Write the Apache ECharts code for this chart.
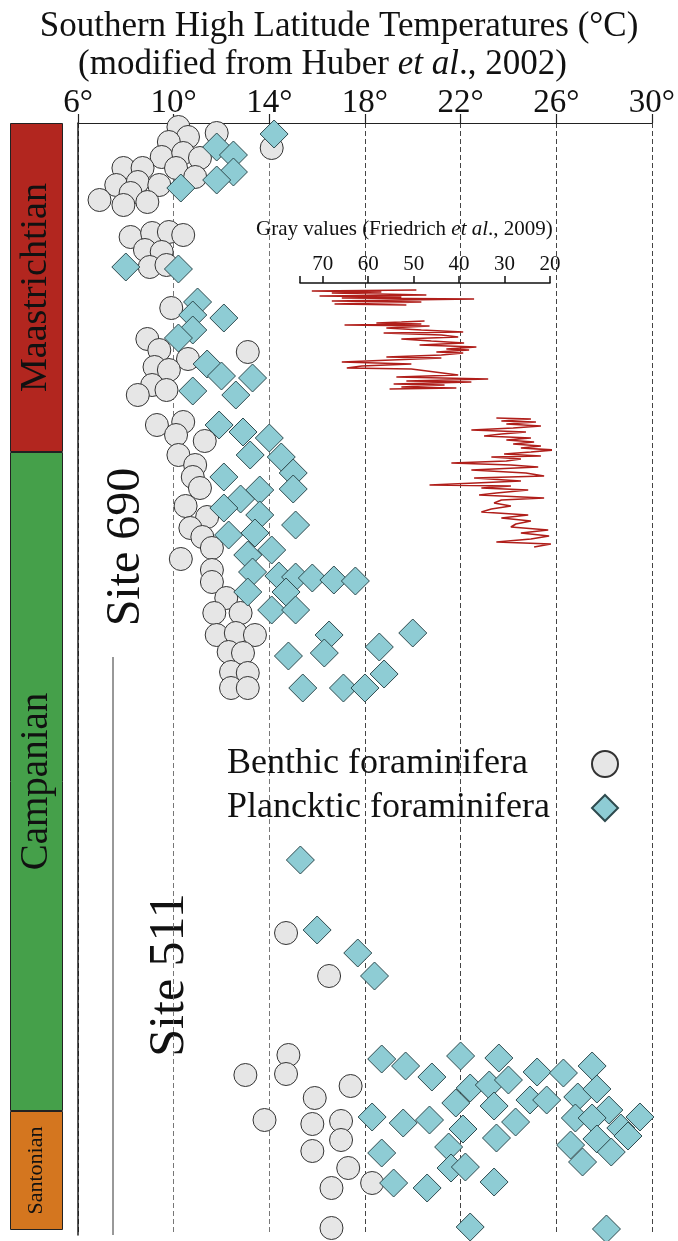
<!DOCTYPE html>
<html lang="en" style="height: 100%">

<head>
    <meta charset="utf-8">
    <script type="text/javascript" src="https://cdn.jsdelivr.net/npm/echarts@6/dist/echarts.min.js"></script>
</head>

<body style="height: 100%; margin: 0; background: #fff">
    <div id="chart" style="height: 1241px; width: 678px"></div>

    <script type="text/javascript">
        // temperature (°C) vs stratigraphic level (0 = top of section, arbitrary units, down = older)
        var benthic690 = [
            [10.2, 4], [10.6, 14], [11.8, 10], [9.8, 19], [9.5, 34], [10.4, 30], [11.1, 35], [10.1, 45], [7.9, 45], [8.7, 45],
            [7.6, 62], [8.5, 59], [8.2, 70], [9.4, 62], [10.9, 54], [6.9, 77], [7.9, 82], [8.9, 79], [14.1, 25],
            [8.2, 114], [9.1, 110], [9.8, 109], [10.4, 112], [8.8, 127], [9.5, 129], [9.0, 144], [9.7, 142],
            [9.9, 185], [8.9, 216], [9.4, 227], [10.6, 236], [13.1, 229], [9.2, 244], [9.8, 247], [9.1, 262], [9.7, 267], [8.5, 272],
            [9.3, 302], [10.4, 299], [10.1, 312], [11.3, 318], [10.2, 332], [10.9, 342], [10.8, 354], [11.1, 365], [10.5, 383], [11.4, 394],
            [10.7, 405], [11.2, 414], [11.6, 425], [10.3, 436], [11.6, 447], [11.6, 459], [12.2, 475], [11.7, 490], [12.8, 490], [11.8, 512],
            [12.6, 510], [13.4, 512], [12.3, 529], [12.9, 530], [12.4, 549], [13.1, 550], [12.4, 565], [13.1, 565]
        ];
        var benthic511 = [
            [14.7, 810], [16.5, 853], [14.8, 932], [13.0, 952], [14.7, 951], [17.4, 963], [15.9, 975], [13.8, 997],
            [15.8, 1001], [17.0, 998], [17.0, 1017], [15.8, 1028], [17.3, 1045], [16.6, 1065], [18.3, 1060], [16.6, 1105]
        ];
        var planktic690 = [
            [14.2, 11], [11.8, 24], [12.5, 32], [12.5, 49], [11.8, 57], [10.3, 65], [8.0, 144], [10.2, 146],
            [11.0, 179], [10.8, 192], [12.1, 195], [10.8, 207], [10.2, 215], [11.4, 241], [12.0, 253], [13.3, 255], [12.6, 272], [10.8, 268],
            [11.9, 302], [12.9, 309], [14.0, 315], [13.2, 332], [14.5, 334], [15.0, 350], [15.0, 366], [12.1, 354], [13.6, 367], [12.8, 376],
            [12.1, 385], [13.6, 392], [15.1, 402], [12.3, 412], [13.4, 410], [14.1, 427], [13.1, 432], [13.3, 449], [14.4, 453], [15.1, 454],
            [15.8, 455], [16.7, 457], [17.6, 458], [13.1, 469], [14.7, 469], [14.1, 487], [15.1, 487], [16.5, 512], [20.0, 510], [14.8, 533],
            [16.3, 530], [18.6, 524], [18.8, 551], [15.4, 565], [17.1, 565], [18.0, 565]
        ];
        var planktic511 = [
            [15.3, 737], [16.0, 807], [17.7, 830], [18.4, 853],
            [18.7, 936], [19.7, 943], [20.8, 954], [22.0, 933], [23.6, 935], [25.2, 949], [26.3, 950], [27.5, 943], [22.4, 965], [23.2, 962],
            [24.0, 957], [21.8, 980], [23.4, 983], [24.9, 977], [25.6, 977], [26.9, 974], [27.7, 966], [28.2, 987], [26.8, 995], [27.5, 995],
            [29.5, 994], [28.7, 1005], [27.7, 1016], [29.0, 1013], [26.6, 1022], [28.3, 1029], [27.1, 1039], [18.3, 994], [19.6, 1000], [20.7, 997],
            [22.1, 1006], [24.3, 999], [23.5, 1015], [21.5, 1024], [18.7, 1030], [21.6, 1045], [22.2, 1044], [23.4, 1059], [19.2, 1060], [20.6, 1065],
            [22.4, 1104], [28.1, 1106]
        ];

        // gray values (Friedrich et al., 2009), three logged intervals
        var grayUpper = [
            [49.4, 167], [72.4, 168], [57.1, 169], [68.0, 170], [47.2, 172], [70.7, 173], [52.7, 174], [65.8, 175], [36.7, 176],
            [68.0, 178], [48.3, 179], [67.4, 181], [51.6, 182]
        ];
        var grayMiddle = [
            [47.6, 198], [52.7, 199], [58.2, 200], [48.3, 201], [65.2, 202], [46.5, 203], [56.0, 205], [48.3, 207], [39.1, 209], [56.6, 210],
            [43.9, 212], [40.2, 214], [52.7, 216], [46.1, 218], [38.9, 220], [48.7, 222], [36.2, 224], [42.8, 226], [37.8, 227], [45.0, 229],
            [39.1, 230], [43.9, 232], [56.0, 234], [43.9, 235], [65.8, 239], [50.5, 241], [61.4, 243], [64.7, 245], [50.5, 246], [40.2, 252],
            [53.8, 254], [33.6, 256], [51.6, 258], [37.3, 259], [54.4, 261], [43.2, 262], [52.7, 264], [40.6, 265], [55.3, 266]
        ];
        var grayLower = [
            [31.8, 295], [24.2, 296], [30.7, 298], [23.1, 299], [29.6, 301], [22.0, 303], [28.1, 305], [37.3, 307], [25.3, 309], [30.7, 311],
            [34.5, 313], [24.2, 315], [29.6, 317], [23.5, 319], [28.1, 321], [22.0, 323], [26.4, 325], [19.1, 327], [24.2, 329], [30.1, 331],
            [22.0, 333], [32.9, 334], [26.4, 336], [29.6, 338], [41.7, 340], [28.6, 342], [22.6, 344], [37.3, 347], [25.3, 350], [21.3, 353],
            [36.7, 355], [26.4, 358], [46.5, 362], [28.6, 363], [35.1, 365], [24.8, 367], [31.8, 370], [35.6, 372], [21.3, 375], [30.7, 377],
            [32.3, 380], [28.6, 383], [32.9, 386], [35.1, 389], [24.8, 392], [30.7, 395], [24.2, 398], [27.5, 401], [28.6, 404], [20.4, 407],
            [26.4, 410], [20.2, 413], [24.2, 416], [31.8, 419], [19.8, 421], [23.5, 424]
        ];

        var stages = ['Maastrichtian', 'Campanian', 'Santonian'];
        var stageThickness = [329, 659, 119];
        var stageColors = ['#B2261F', '#45A04A', '#D4761F'];
        var stageFontSize = [38, 39, 22];

        var serif = 'Liberation Serif';
        var chart = echarts.init(document.getElementById('chart'));

        var graySeries = [grayUpper, grayMiddle, grayLower].map(function (band) {
            return {
                name: 'Gray values',
                type: 'line',
                xAxisIndex: 1,
                yAxisIndex: 1,
                data: band,
                showSymbol: false,
                clip: false,
                lineStyle: { color: '#B01E1A', width: 1.7 },
                z: 3
            };
        });

        var stageSeries = stages.map(function (s, i) {
            return {
                name: s,
                type: 'bar',
                stack: 'stage',
                xAxisIndex: 2,
                yAxisIndex: 2,
                barWidth: '100%',
                data: [stageThickness[i]],
                itemStyle: { color: stageColors[i], borderColor: '#222', borderWidth: 1 },
                label: {
                    show: true,
                    position: 'inside',
                    rotate: 90,
                    formatter: s,
                    fontFamily: serif,
                    fontSize: stageFontSize[i],
                    color: '#111'
                }
            };
        });

        var option = {
            animation: false,
            title: [{
                text: 'Southern High Latitude Temperatures (°C)',
                left: 'center',
                top: 9,
                padding: 0,
                textStyle: { fontFamily: serif, fontSize: 35, fontWeight: 'normal', color: '#111' }
            }, {
                text: '(modified from Huber {i|et al}., 2002)',
                left: 78,
                top: 47,
                padding: 0,
                textStyle: {
                    fontFamily: serif, fontSize: 35, fontWeight: 'normal', color: '#111',
                    rich: { i: { fontFamily: serif, fontSize: 35, fontStyle: 'italic', color: '#111' } }
                }
            }, {
                text: 'Gray values (Friedrich {i|et al}., 2009)',
                left: 256,
                top: 219,
                padding: 0,
                textStyle: {
                    fontFamily: serif, fontSize: 21, fontWeight: 'normal', color: '#111',
                    rich: { i: { fontFamily: serif, fontSize: 21, fontStyle: 'italic', color: '#111' } }
                }
            }],
            legend: {
                data: ['Benthic foraminifera', 'Plancktic foraminifera'],
                orient: 'vertical',
                left: 222,
                top: 741,
                align: 'right',
                itemWidth: 26,
                itemHeight: 26,
                itemGap: 8,
                formatter: function (name) { return '{t|' + name + '}'; },
                textStyle: {
                    fontFamily: serif, fontSize: 36, color: '#111',
                    rich: { t: { fontFamily: serif, fontSize: 36, color: '#111', width: 360, align: 'left', lineHeight: 40 } }
                }
            },
            grid: [
                { left: 78, right: 22, top: 123, bottom: 6 },
                { left: 300, width: 250, top: 283, bottom: 6 },
                { left: 10, width: 53, top: 123, bottom: 11 }
            ],
            xAxis: [{
                gridIndex: 0,
                type: 'value',
                position: 'top',
                min: 6,
                max: 30,
                interval: 4,
                axisLine: { lineStyle: { color: '#222', width: 1.2 } },
                axisTick: { length: 9, lineStyle: { color: '#222', width: 1.2 } },
                axisLabel: { formatter: '{value}°', fontFamily: serif, fontSize: 33, color: '#111', margin: 3 },
                splitLine: {
                    show: true,
                    lineStyle: { type: [5, 3], width: 1, color: ['#222', '#777', '#777', '#444', '#444', '#444', '#444'] }
                }
            }, {
                gridIndex: 1,
                type: 'value',
                position: 'top',
                inverse: true,
                min: 20,
                max: 75,
                interval: 10,
                axisLine: { lineStyle: { color: '#111', width: 1.5 } },
                axisTick: { length: 7, lineStyle: { color: '#111', width: 1.5 } },
                axisLabel: {
                    fontFamily: serif, fontSize: 21, color: '#111', margin: 8,
                    formatter: function (v) { return v === 75 ? '' : v; }
                },
                splitLine: { show: false }
            }, {
                gridIndex: 2,
                type: 'category',
                data: ['stage'],
                show: false
            }],
            yAxis: [{
                gridIndex: 0,
                type: 'value',
                inverse: true,
                min: 0,
                max: 1112,
                axisLine: { show: true, lineStyle: { color: '#222', width: 1.5 } },
                axisTick: { show: false },
                axisLabel: { show: false },
                splitLine: { show: false }
            }, {
                gridIndex: 1,
                type: 'value',
                inverse: true,
                min: 160,
                max: 1112,
                show: false
            }, {
                gridIndex: 2,
                type: 'value',
                inverse: true,
                min: 0,
                max: 1107,
                show: false
            }],
            graphic: [{
                type: 'line',
                shape: { x1: 113, y1: 657, x2: 113, y2: 1235 },
                style: { stroke: '#333', lineWidth: 1 }
            }, {
                type: 'text',
                x: 126,
                y: 547,
                rotation: Math.PI / 2,
                style: { text: 'Site 690', fontFamily: serif, fontSize: 48, fill: '#111', textAlign: 'center', textVerticalAlign: 'middle' }
            }, {
                type: 'text',
                x: 170,
                y: 975,
                rotation: Math.PI / 2,
                style: { text: 'Site 511', fontFamily: serif, fontSize: 50, fill: '#111', textAlign: 'center', textVerticalAlign: 'middle' }
            }],
            series: [{
                name: 'Benthic foraminifera',
                type: 'scatter',
                symbol: 'circle',
                symbolSize: 23,
                data: benthic690.concat(benthic511),
                itemStyle: { color: '#E6E6E6', borderColor: '#333', borderWidth: 1, opacity: 1 },
                z: 4
            }, {
                name: 'Plancktic foraminifera',
                type: 'scatter',
                symbol: 'diamond',
                symbolSize: 28,
                data: planktic690.concat(planktic511),
                itemStyle: { color: '#8ECCD4', borderColor: '#2E4A4E', borderWidth: 1, opacity: 1 },
                z: 5
            }].concat(graySeries, stageSeries)
        };
        chart.setOption(option);
    </script>
</body>

</html>
